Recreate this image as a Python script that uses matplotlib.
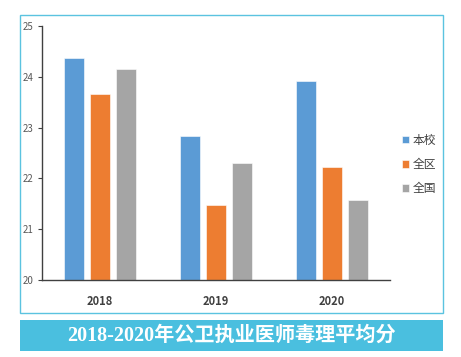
import matplotlib.pyplot as plt
import numpy as np
from matplotlib.patches import Rectangle

years = ["2018", "2019", "2020"]
series_names = ["本校", "全区", "全国"]
school = [24.37, 22.83, 23.92]
district = [23.67, 21.48, 22.22]
national = [24.15, 22.31, 21.58]
colors = ["#5B9BD5", "#ED7D31", "#A5A5A5"]
title_text = "2018-2020年公卫执业医师毒理平均分"

plt.rcParams["font.family"] = ["Noto Sans CJK SC", "DejaVu Sans"]

fig = plt.figure(figsize=(4.61, 3.57), dpi=100)

# outer frame and title banner
fig.patches.append(Rectangle((0.0434, 0.1232), 0.9176, 0.8347, transform=fig.transFigure,
                             fill=False, edgecolor="#5BC3E0", linewidth=1.0))
fig.patches.append(Rectangle((0.0434, 0.0168), 0.9176, 0.0868, transform=fig.transFigure,
                             facecolor="#4ABFDF", edgecolor="none"))
fig.text(0.502, 0.060, title_text, ha="center", va="center", color="white",
         fontsize=14.5, fontweight="bold", family=["Liberation Serif", "Noto Sans CJK SC"])

ax = fig.add_axes([0.0911, 0.2157, 0.7549, 0.7115])
x = np.arange(len(years))
width = 0.172
step = 0.224
for i, (vals, name) in enumerate(zip([school, district, national], series_names)):
    ax.bar(x + (i - 1) * step, [v - 20 for v in vals], width, bottom=20,
           color=colors[i], label=name, edgecolor="white", linewidth=0.4)

ax.set_xlim(-0.5, 2.5)
ax.set_ylim(20, 25)
ax.set_yticks([20, 21, 22, 23, 24, 25])
ax.set_xticks(x)
ax.set_xticklabels(years, fontweight="bold", fontsize=8, color="#404040")
ax.tick_params(axis="y", labelsize=7, labelcolor="#595959", length=3, color="#404040", pad=3)
ax.tick_params(axis="x", length=0, pad=11)
for s in ["top", "right"]:
    ax.spines[s].set_visible(False)
ax.spines["left"].set_color("#404040")
ax.spines["bottom"].set_color("#404040")
ax.spines["left"].set_linewidth(1.0)
ax.spines["bottom"].set_linewidth(1.0)

ax.legend(loc="center left", bbox_to_anchor=(1.005, 0.455), frameon=False, fontsize=8.5,
          handlelength=0.6, handleheight=0.6, handletextpad=0.3, labelspacing=0.95,
          labelcolor="#404040")

fig.savefig("out.png", dpi=100)
